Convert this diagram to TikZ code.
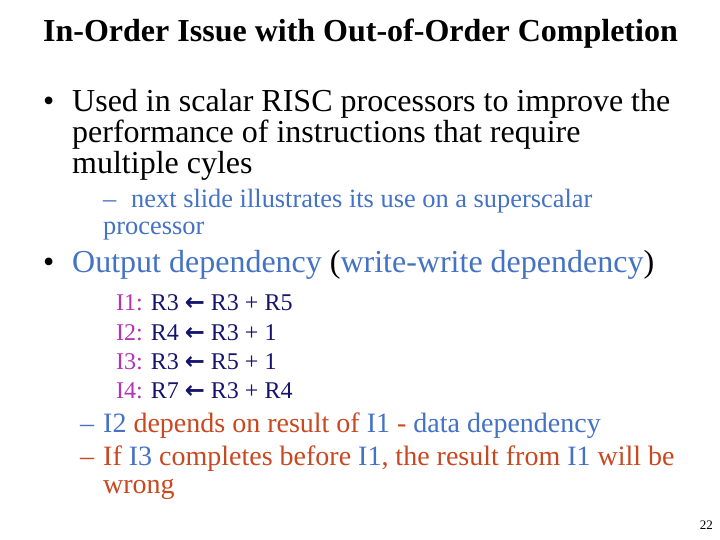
\documentclass[tikz,border=0pt]{standalone}
\usepackage{fontspec}
\setmainfont{Liberation Serif}
\newfontfamily\symf{DejaVu Sans}
\definecolor{cblue}{RGB}{68,114,196}
\definecolor{cred}{RGB}{200,72,32}
\definecolor{cmag}{RGB}{180,50,180}
\definecolor{cnavy}{RGB}{20,20,110}
\newcommand{\larr}{{\symf\bfseries\char"2190}}
\begin{document}
\begin{tikzpicture}[x=1pt,y=1pt,
  txt/.style={anchor=base west,inner sep=0pt,font=\fontsize{32}{35}\selectfont},
  sub/.style={anchor=base west,inner sep=0pt,font=\fontsize{26.4}{29}\selectfont,text=cblue},
  ins/.style={anchor=base west,inner sep=0pt,font=\fontsize{24}{27}\selectfont,text=cnavy},
  dsh/.style={anchor=base west,inner sep=0pt,font=\fontsize{28}{31}\selectfont,text=cred}]
\useasboundingbox (0,0) rectangle (720,540);
\fill[white] (0,0) rectangle (720,540);
\node[anchor=base west,inner sep=0pt,font=\fontsize{32}{35}\selectfont\bfseries] (title) at (43,498) {In-Order Issue with Out-of-Order Completion};
\node[txt] (b1) at (43,428) {•};
\node[txt] (l1) at (72,428) {Used in scalar RISC processors to improve the};
\node[txt] (l2) at (72,397) {performance of instructions that require};
\node[txt] (l3) at (72,366) {multiple cyles};
\node[sub] (d1) at (103,332) {–};
\node[sub] (s1) at (131,332) {next slide illustrates its use on a superscalar};
\node[sub] (s2) at (103,305) {processor};
\node[txt] (b2) at (43,267) {•};
\node[txt,text=cblue] (o1) at (72,267) {Output dependency \textcolor{black}{(}write-write dependency\textcolor{black}{)}};
\node[ins] (i1) at (116,229) {\textcolor{cmag}{I1:} R3 \larr\ R3 + R5};
\node[ins] (i2) at (116,199) {\textcolor{cmag}{I2:} R4 \larr\ R3 + 1};
\node[ins] (i3) at (116,170) {\textcolor{cmag}{I3:} R3 \larr\ R5 + 1};
\node[ins] (i4) at (116,141) {\textcolor{cmag}{I4:} R7 \larr\ R3 + R4};
\node[dsh,text=cblue] (e1) at (80,107) {–};
\node[dsh] (t1) at (103,107) {\textcolor{cblue}{I2} depends on result of \textcolor{cblue}{I1} - \textcolor{cblue}{data dependency}};
\node[dsh] (e2) at (80,74) {–};
\node[dsh] (t2) at (103,74) {If \textcolor{cblue}{I3} completes before \textcolor{cblue}{I1}, the result from \textcolor{cblue}{I1} will be};
\node[dsh] (t3) at (103,46) {wrong};
\node[anchor=base east,inner sep=0pt,font=\fontsize{13}{15}\selectfont] (pg) at (713,10) {22};
\end{tikzpicture}
\end{document}
